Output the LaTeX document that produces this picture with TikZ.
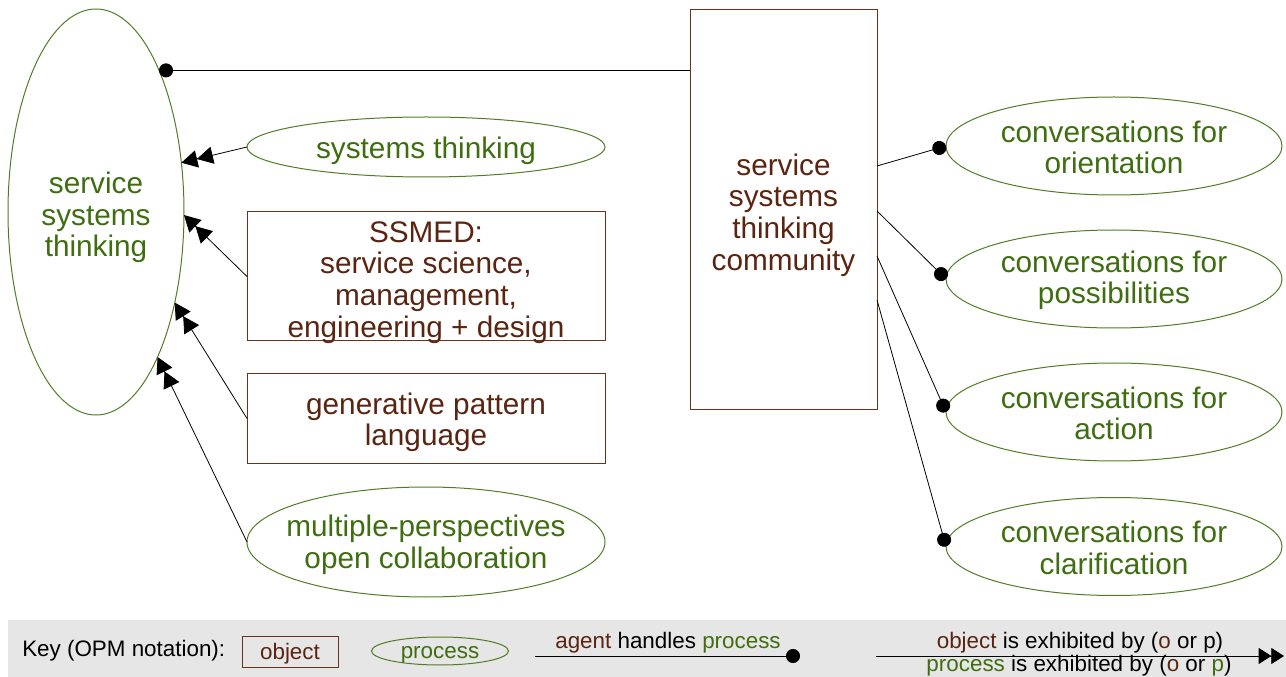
\documentclass[tikz,border=0pt]{standalone}
\usepackage{fontspec}
\setmainfont{Liberation Sans}
\usetikzlibrary{shapes.geometric,arrows.meta,calc}
\definecolor{tgreen}{RGB}{62,110,16}
\definecolor{tbrown}{RGB}{90,36,16}
\definecolor{egreen}{RGB}{80,125,35}
\definecolor{bbrown}{RGB}{110,50,25}
\definecolor{keygray}{RGB}{230,230,230}
\begin{document}
\begin{tikzpicture}[x=0.75pt,y=-0.75pt,
 big/.style={font=\fontsize{22.3}{23.7}\selectfont, align=center, inner sep=0pt},
 ptxt/.style={big, text=tgreen},
 btxt/.style={big, text=tbrown},
 keyfont/.style={font=\fontsize{16.8}{18}\selectfont},
 proc/.style={ellipse, draw=egreen, line width=0.75pt, inner sep=0pt, outer sep=0pt},
 obj/.style={rectangle, draw=bbrown, line width=0.75pt, inner sep=0pt, outer sep=0pt},
 exhib/.style={-{Triangle[length=12pt,width=13pt]Triangle[length=12pt,width=13pt]}, line width=0.6pt},
 exhibsmall/.style={-{Triangle[length=9.5pt,width=12pt]Triangle[length=9.5pt,width=12pt]}, line width=0.6pt},
 agent/.style={-{Circle[length=10.5pt]}, line width=0.6pt}]
\useasboundingbox (0,0) rectangle (1286,677);

% left side
\node[proc, minimum width=132pt, minimum height=304.5pt,
  label={[ptxt, yshift=-4pt]center:{service\\systems\\thinking}}] (sst) at (96,212) {};
\node[proc, minimum width=268.5pt, minimum height=45pt,
  label={[ptxt, yshift=-3pt]center:{systems thinking}}] (st) at (426,147) {};
\node[obj, minimum width=268.5pt, minimum height=96.75pt,
  label={[btxt, yshift=-4.5pt]center:{SSMED:\\service science,\\management,\\engineering + design}}] (ssmed) at (426,276.5) {};
\node[obj, minimum width=268.5pt, minimum height=66.75pt,
  label={[btxt, yshift=-3pt]center:{generative pattern\\language}}] (gen) at (426,418.5) {};
\node[proc, minimum width=268.5pt, minimum height=82.5pt,
  label={[ptxt, yshift=-2pt]center:{multiple-perspectives\\open collaboration}}] (mp) at (426,542) {};

% community
\node[obj, minimum width=140.25pt, minimum height=300pt,
  label={[btxt, yshift=-3.75pt]center:{service\\systems\\thinking\\community}}] (comm) at (783.5,210) {};

% conversations
\node[proc, minimum width=252pt, minimum height=73.5pt,
  label={[ptxt, yshift=-1pt]center:{conversations for\\orientation}}] (co1) at (1114,146) {};
\node[proc, minimum width=252pt, minimum height=73.5pt,
  label={[ptxt, yshift=-1pt]center:{conversations for\\possibilities}}] (co2) at (1114,279) {};
\node[proc, minimum width=252pt, minimum height=73.5pt,
  label={[ptxt, yshift=-1pt]center:{conversations for\\action}}] (co3) at (1114,412) {};
\node[proc, minimum width=252pt, minimum height=73.5pt,
  label={[ptxt, yshift=-1pt]center:{conversations for\\clarification}}] (co4) at (1114,546.5) {};

% connectors
\draw[agent] (sst.66 -| comm.west) -- (sst.66);
\draw[agent] ($(comm.north east)!0.39!(comm.south east)$) -- (co1.west);
\draw[agent] ($(comm.north east)!0.5025!(comm.south east)$) -- (co2.west);
\draw[agent] ($(comm.north east)!0.615!(comm.south east)$) -- (co3.west);
\draw[agent] ($(comm.north east)!0.725!(comm.south east)$) -- (co4.west);

\draw[exhib] (st.west) -- (sst.30);
\draw[exhib] (ssmed.west) -- (sst.358);
\draw[exhib] (gen.west) -- (sst.311);
\draw[exhib] (mp.west) -- (sst.293);

% key
\fill[keygray] (8,620) rectangle (1286,677);
\node[keyfont, anchor=west, inner sep=0pt] (keyt) at (22,651) {Key (OPM notation):};
\node[obj, minimum width=72pt, minimum height=23.25pt,
  label={[keyfont, text=tbrown, inner sep=0pt, yshift=-1.5pt]center:object}] (ko) at (290,651.5) {};
\node[proc, minimum width=102.75pt, minimum height=21pt,
  label={[keyfont, text=tgreen, inner sep=0pt, yshift=-2.5pt]center:process}] (kp) at (440,651) {};
\coordinate (ka1) at (535,656);
\coordinate (ka2) at (800,656);
\draw[agent] (ka1) -- (ka2);
\node[keyfont, anchor=base, inner sep=0pt] (kat) at (668,648) {\textcolor{tbrown}{agent} handles \textcolor{tgreen}{process}};
\coordinate (ke1) at (876,656);
\coordinate (ke2) at (1284,656);
\draw[exhibsmall] (ke1) -- (ke2);
\node[keyfont, anchor=base, inner sep=0pt] (ket1) at (1080,648) {\textcolor{tbrown}{object} is exhibited by (\textcolor{tbrown}{o} or p)};
\node[keyfont, anchor=base, inner sep=0pt] (ket2) at (1079,671) {\textcolor{tgreen}{process} is exhibited by (\textcolor{tbrown}{o} or \textcolor{tgreen}{p})};
\end{tikzpicture}
\end{document}
